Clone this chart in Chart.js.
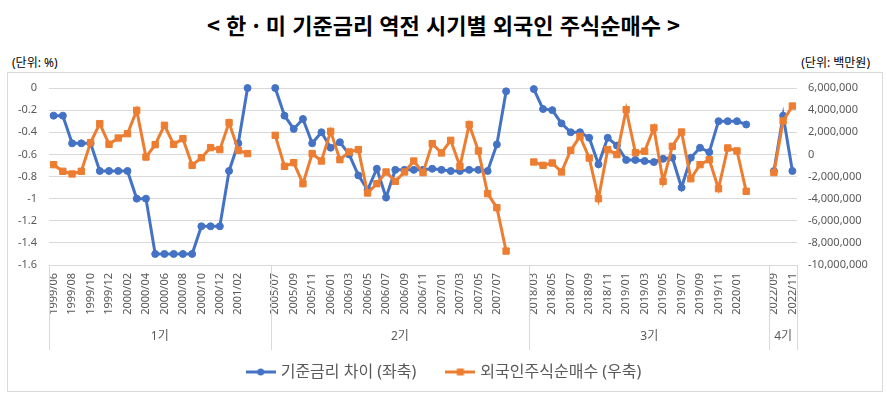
<!DOCTYPE html>
<html lang="ko">
<head>
<meta charset="utf-8">
<script src="https://cdn.jsdelivr.net/npm/chart.js@4.4.1/dist/chart.umd.min.js"></script>
<style>
  body { margin: 0; width: 887px; height: 400px; background: #fff; position: relative; overflow: hidden;
         font-family: 'Noto Sans', 'Noto Sans CJK KR', sans-serif; }
  .title { position: absolute; left: 0; top: 8px; width: 887px; text-align: center;
           font: bold 22px 'Noto Sans CJK KR', sans-serif; color: #000; }
  .unit { position: absolute; top: 53px; font-size: 12px; color: #000; }
  #frame { position: absolute; left: 7px; top: 72px; width: 876px; height: 320px;
           box-sizing: border-box; border: 1px solid #d9d9d9; }
  #frame canvas { position: absolute; left: 0; top: 0; }
</style>
</head>
<body>
<div class="title">&lt; 한 · 미 기준금리 역전 시기별 외국인 주식순매수 &gt;</div>
<div class="unit" style="left:12px">(단위: %)</div>
<div class="unit" style="right:17px">(단위: 백만원)</div>
<div id="frame"><canvas id="chart" width="874" height="318"></canvas></div>
<script>
// months per period
const months1 = ['1999/06', '1999/07', '1999/08', '1999/09', '1999/10', '1999/11', '1999/12',
  '2000/01', '2000/02', '2000/03', '2000/04', '2000/05', '2000/06', '2000/07', '2000/08',
  '2000/09', '2000/10', '2000/11', '2000/12', '2001/01', '2001/02', '2001/03'];
const months2 = ['2005/07', '2005/08', '2005/09', '2005/10', '2005/11', '2005/12',
  '2006/01', '2006/02', '2006/03', '2006/04', '2006/05', '2006/06', '2006/07', '2006/08',
  '2006/09', '2006/10', '2006/11', '2006/12', '2007/01', '2007/02', '2007/03', '2007/04',
  '2007/05', '2007/06', '2007/07', '2007/08'];
const months3 = ['2018/03', '2018/04', '2018/05', '2018/06', '2018/07', '2018/08', '2018/09',
  '2018/10', '2018/11', '2018/12', '2019/01', '2019/02', '2019/03', '2019/04', '2019/05',
  '2019/06', '2019/07', '2019/08', '2019/09', '2019/10', '2019/11', '2019/12', '2020/01', '2020/02'];
const months4 = ['2022/09', '2022/10', '2022/11'];

const periodNames = ['1기', '2기', '3기', '4기'];

// 기준금리 차이 (%p, 좌축)
const rate1 = [-0.25, -0.25, -0.5, -0.5, -0.5, -0.75, -0.75, -0.75, -0.75, -1, -1,
  -1.5, -1.5, -1.5, -1.5, -1.5, -1.25, -1.25, -1.25, -0.75, -0.5, 0];
const rate2 = [0, -0.25, -0.37, -0.28, -0.5, -0.4, -0.54, -0.49, -0.6, -0.79, -0.92, -0.73,
  -0.99, -0.74, -0.74, -0.74, -0.74, -0.73, -0.74, -0.75, -0.75, -0.74, -0.74, -0.75, -0.51, -0.03];
const rate3 = [-0.01, -0.19, -0.2, -0.32, -0.4, -0.4, -0.45, -0.69, -0.45, -0.52, -0.65, -0.65,
  -0.66, -0.67, -0.64, -0.63, -0.9, -0.63, -0.54, -0.58, -0.3, -0.3, -0.3, -0.33];
const rate4 = [-0.75, -0.25, -0.75];

// 외국인 주식순매수 (백만원, 우축)
const buy1 = [-930000, -1530000, -1770000, -1530000, 1060000, 2780000, 910000, 1480000, 1870000,
  3980000, -240000, 880000, 2630000, 910000, 1420000, -990000, -300000, 610000, 430000,
  2870000, 370000, 70000];
const buy2 = [1720000, -1080000, -750000, -2650000, 70000, -600000, 2080000, -480000, 220000,
  430000, -3490000, -2650000, -1590000, -2440000, -1590000, -600000, -1650000, 970000, 130000,
  1270000, -1080000, 2690000, 310000, -3550000, -4820000, -8740000];
const buy3 = [-690000, -990000, -780000, -1590000, 370000, 1630000, -330000, -4000000, 430000,
  -20000, 4040000, 160000, 280000, 2390000, -2440000, 730000, 2020000, -2200000, -930000,
  -480000, -3100000, 580000, 310000, -3340000];
const buy4 = [-1650000, 3020000, 4370000];

const GAP = 2; // empty categories after each period

const periods = [
  { name: periodNames[0], months: months1, rate: rate1, buy: buy1 },
  { name: periodNames[1], months: months2, rate: rate2, buy: buy2 },
  { name: periodNames[2], months: months3, rate: rate3, buy: buy3 },
  { name: periodNames[3], months: months4, rate: rate4, buy: buy4 },
];

const labels = [];
const rateData = [];
const buyData = [];
const groups = [];
periods.forEach((p, i) => {
  const start = labels.length;
  labels.push(...p.months);
  rateData.push(...p.rate);
  buyData.push(...p.buy);
  if (i < periods.length - 1) {
    for (let k = 0; k < GAP; k++) { labels.push(''); rateData.push(null); buyData.push(null); }
  }
  groups.push({ name: p.name, start, end: labels.length - 1 });
});

const BLUE = '#4472C4';
const ORANGE = '#ED7D31';
const GRID = '#d9d9d9';
const TEXT = '#595959';

function legendIcon(color, square) {
  const c = document.createElement('canvas');
  c.width = 30; c.height = 10;
  const g = c.getContext('2d');
  g.strokeStyle = color; g.lineWidth = 3;
  g.beginPath(); g.moveTo(0, 5); g.lineTo(30, 5); g.stroke();
  g.fillStyle = color;
  if (square) g.fillRect(11.5, 1.5, 7, 7);
  else { g.beginPath(); g.arc(15, 5, 3.5, 0, Math.PI * 2); g.fill(); }
  return c;
}

const groupPlugin = {
  id: 'groups',
  afterDraw(chart) {
    const x = chart.scales.x;
    const ctx = chart.ctx;
    const half = (x.getPixelForValue(1) - x.getPixelForValue(0)) / 2;
    const top = chart.chartArea.bottom;
    ctx.save();
    ctx.strokeStyle = GRID;
    ctx.lineWidth = 1;
    const edges = [chart.chartArea.left];
    groups.forEach(g => edges.push(x.getPixelForValue(g.end) + half));
    edges.forEach(px => {
      const xx = Math.round(px) + 0.5;
      ctx.beginPath(); ctx.moveTo(xx, top); ctx.lineTo(xx, top + 85); ctx.stroke();
    });
    ctx.fillStyle = TEXT;
    ctx.font = "12px 'Noto Sans', 'Noto Sans CJK KR', sans-serif";
    ctx.textAlign = 'center';
    ctx.textBaseline = 'middle';
    groups.forEach((g, i) => ctx.fillText(g.name, (edges[i] + edges[i + 1]) / 2, top + 72));
    ctx.restore();
  }
};

Chart.defaults.font.family = "'Noto Sans', 'Noto Sans CJK KR', sans-serif";
Chart.defaults.color = TEXT;

new Chart(document.getElementById('chart'), {
  type: 'line',
  data: {
    labels,
    datasets: [
      {
        label: '기준금리 차이 (좌축)',
        data: rateData,
        yAxisID: 'y',
        borderColor: BLUE,
        backgroundColor: BLUE,
        borderWidth: 3,
        pointStyle: 'circle',
        pointRadius: 3.5,
        pointBorderWidth: 1,
        tension: 0,
        clip: false,
        order: 1
      },
      {
        label: '외국인주식순매수 (우축)',
        data: buyData,
        yAxisID: 'y1',
        borderColor: ORANGE,
        backgroundColor: ORANGE,
        borderWidth: 3,
        pointStyle: 'rect',
        pointRadius: 4.5,
        pointBorderWidth: 1,
        tension: 0,
        clip: false,
        order: 0
      }
    ]
  },
  options: {
    responsive: false,
    animation: false,
    layout: { padding: { top: 15, bottom: 1, left: 0, right: 0 } },
    plugins: {
      tooltip: { enabled: false },
      legend: {
        position: 'bottom',
        labels: {
          usePointStyle: true,
          pointStyleWidth: 24,
          padding: 32,
          color: TEXT,
          font: { size: 16 },
          sort: (a, b) => a.datasetIndex - b.datasetIndex,
          generateLabels(chart) {
            const items = Chart.defaults.plugins.legend.labels.generateLabels(chart);
            items.forEach(it => {
              it.pointStyle = it.datasetIndex === 0 ? legendIcon(BLUE, false) : legendIcon(ORANGE, true);
            });
            return items;
          }
        }
      }
    },
    scales: {
      x: {
        offset: true,
        grid: { display: false, drawTicks: false },
        border: { display: true, color: GRID },
        ticks: {
          autoSkip: false,
          minRotation: 90,
          maxRotation: 90,
          padding: 8,
          font: { size: 11 },
          color: TEXT,
          callback(value, index) { return index % 2 === 0 ? this.getLabelForValue(value) : ''; }
        },
        afterFit(scale) { scale.height = 67; }
      },
      y: {
        position: 'left',
        min: -1.6,
        max: 0,
        grid: { color: GRID, drawTicks: true, tickLength: 9, tickColor: 'transparent' },
        border: { display: false },
        ticks: {
          stepSize: 0.2,
          padding: 3,
          font: { size: 11 },
          color: TEXT,
          callback: v => String(Math.round(v * 10) / 10)
        },
        afterFit(scale) { scale.width = 41; }
      },
      y1: {
        position: 'right',
        min: -10000000,
        max: 6000000,
        grid: { drawOnChartArea: false, drawTicks: true, tickLength: 8, color: 'transparent', tickColor: 'transparent' },
        border: { display: false },
        ticks: {
          stepSize: 2000000,
          padding: 3,
          font: { size: 11 },
          color: TEXT,
          callback: v => v.toLocaleString('en-US')
        },
        afterFit(scale) { scale.width = 85; }
      }
    }
  },
  plugins: [groupPlugin]
});
</script>
</body>
</html>
